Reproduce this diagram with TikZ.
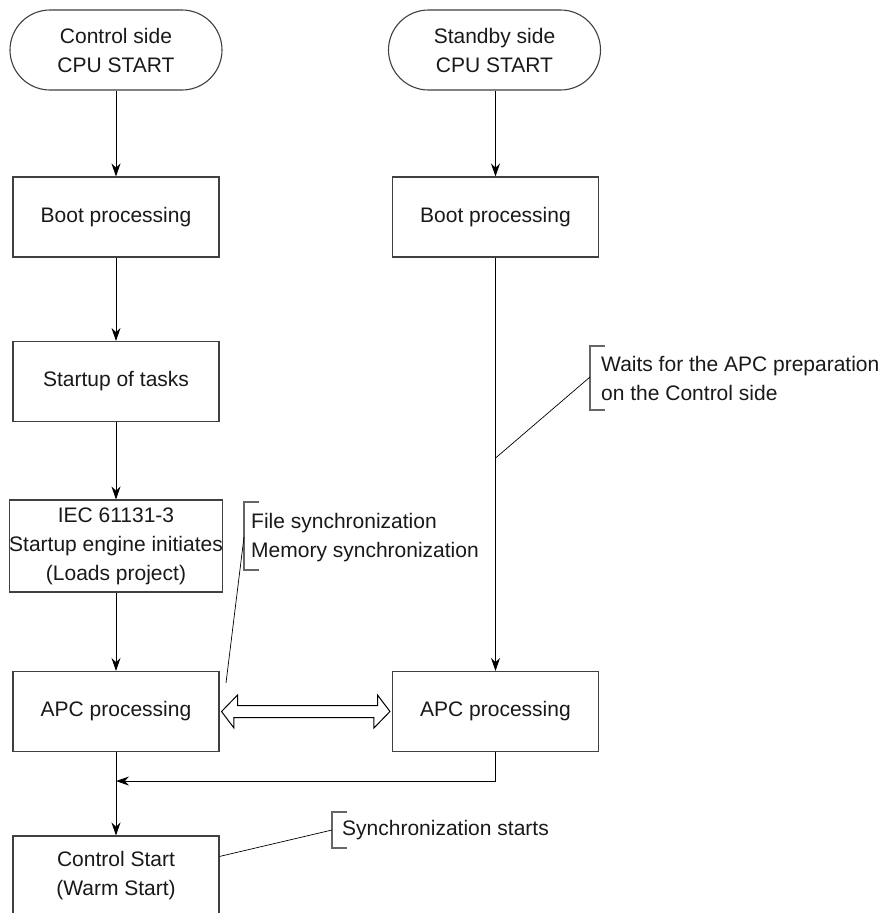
\documentclass[tikz,border=0pt]{standalone}
\usepackage{fontspec}
\setmainfont{Liberation Sans}
\usetikzlibrary{arrows.meta,calc}
\begin{document}
\begin{tikzpicture}[x=1pt,y=-1pt,
  every node/.style={font=\fontsize{21}{29}\selectfont, text=black!90},
  term/.style={draw=black!75, line width=1.1pt, rounded corners=40pt, minimum width=212pt, minimum height=80pt, align=center, inner sep=0pt},
  procbox/.style={draw=black!75, line width=1.1pt, minimum width=206pt, minimum height=80pt, align=center, inner sep=0pt},
  arr/.style={draw=black, line width=0.9pt, -{Stealth[length=13pt,width=9pt]}},
  plain/.style={draw=black, line width=0.9pt},
  brk/.style={draw=black!60, line width=1.1pt},
  note/.style={anchor=west, align=left, inner sep=0pt},
  dblarrow/.style={draw=black, line width=1pt, fill=white}
]
\clip (0,0) rectangle (888,913);
\fill[white] (0,0) rectangle (888,913);

% left column
\node[term] (termL) at (116,50) {Control side\\CPU START};
\node[procbox] (bootL) at (116,217) {Boot processing};
\node[procbox] (tasks) at (116,381.5) {Startup of tasks};
\node[procbox, minimum height=92pt] (iec) at (116,546) {IEC 61131-3\\Startup engine initiates\\(Loads project)};
\node[procbox] (apcL) at (116,711.5) {APC processing};
\node[procbox] (ctrl) at (116,876) {Control Start\\(Warm Start)};

% right column
\node[term] (termR) at (494.5,50) {Standby side\\CPU START};
\node[procbox] (bootR) at (495.5,217) {Boot processing};
\node[procbox] (apcR) at (495.5,711.5) {APC processing};

% connectors
\draw[arr] (termL.south) -- (bootL.north);
\draw[arr] (bootL) -- (tasks);
\draw[arr] (tasks) -- (iec);
\draw[arr] (iec) -- (apcL);
\draw[arr] (apcL) -- (ctrl);
\draw[arr] (termR.south -| bootR.north) -- (bootR.north);
\draw[arr] (bootR) -- (apcR);
\coordinate (join) at ($(apcL.south)+(0,29)$);
\draw[arr] (apcR.south) |- (join);

% hollow double arrow between APC boxes
\draw[dblarrow] ($(apcL.east)+(2,0)$) -- ++(16,-16.5) -- ++(0,10.5) -- ++(140,0) -- ++(0,-10.5)
  -- ($(apcR.west)+(-2,0)$) -- ++(-16,16.5) -- ++(0,-10.5) -- ++(-140,0) -- ++(0,10.5) -- cycle;

% annotation: waits
\coordinate (w1) at ($(bootR.south)!0.485!(apcR.north)$);
\draw[brk] (605,346) -- (590,346) -- (590,410) -- (605,410);
\coordinate (wb) at (590,377);
\draw[plain, line width=0.7pt] (w1) -- (wb);
\node[note] (waits) at (601,378.5) {Waits for the APC preparation\\on the Control side};

% annotation: synchronization of files
\draw[brk] (259,502) -- (244,502) -- (244,570) -- (259,570);
\coordinate (fb) at (244,537);
\coordinate (fa) at (226,683);
\draw[plain, line width=0.7pt] (fa) -- (fb);
\node[note] (files) at (251,537.5) {File synchronization\\Memory synchronization};

% annotation: synchronization starts
\draw[brk] (347,812) -- (332,812) -- (332,848) -- (347,848);
\coordinate (sb) at (332,830);
\draw[plain, line width=0.7pt] ($(ctrl.north east)+(0,21)$) -- (sb);
\node[note] (sync) at (342,830) {Synchronization starts};
\end{tikzpicture}
\end{document}
